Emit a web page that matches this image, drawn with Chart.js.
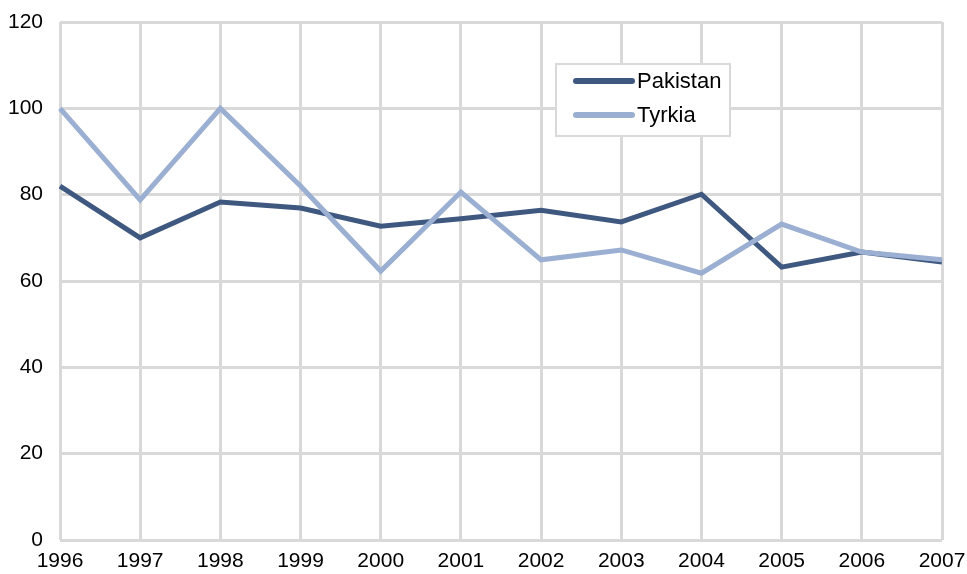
<!DOCTYPE html>
<html>
<head>
<meta charset="utf-8">
<script src="https://cdn.jsdelivr.net/npm/chart.js@4/dist/chart.umd.min.js"></script>
<style>
  html, body { margin: 0; padding: 0; background: #fff; }
  #wrap { width: 967px; height: 574px; }
</style>
</head>
<body>
<div id="wrap"><canvas id="lineChart" width="967" height="574"></canvas></div>
<script>
var years = ['1996','1997','1998','1999','2000','2001','2002','2003','2004','2005','2006','2007'];
var pakistan = [82.0, 70.0, 78.3, 76.9, 72.7, 74.4, 76.4, 73.7, 80.1, 63.2, 66.7, 64.4];
var tyrkia = [100, 78.8, 100, 82.0, 62.3, 80.6, 64.9, 67.2, 61.8, 73.2, 66.7, 64.9];
var yTicks = [0, 20, 40, 60, 80, 100, 120];

var gridColor = '#d9d9d9';
var font = { family: 'Liberation Sans, Arial, sans-serif', size: 21 };

// legend box drawn inside the plot, like the original
var boxLegend = {
  id: 'boxLegend',
  afterDraw: function(chart) {
    var c = chart.ctx;
    var a = chart.chartArea;
    var x = a.left + 496, y = a.top + 42, w = 174, h = 72;
    c.save();
    c.fillStyle = '#fff';
    c.fillRect(x, y, w, h);
    c.strokeStyle = gridColor;
    c.lineWidth = 2;
    c.strokeRect(x, y, w, h);
    c.font = '22px ' + font.family;
    c.textBaseline = 'middle';
    c.lineCap = 'round';
    chart.data.datasets.forEach(function(ds, i) {
      var ly = y + 17 + i * 34;
      c.strokeStyle = ds.borderColor;
      c.lineWidth = 6;
      c.beginPath();
      c.moveTo(x + 20, ly);
      c.lineTo(x + 76, ly);
      c.stroke();
      c.fillStyle = '#000';
      c.fillText(ds.label, x + 81, ly + 1);
    });
    c.restore();
  }
};

var ctx = document.getElementById('lineChart');
var myLineChart = new Chart(ctx, {
  type: 'line',
  data: {
    labels: years,
    datasets: [
      { label: 'Pakistan', data: pakistan, borderColor: '#3f5880', borderWidth: 5, pointRadius: 0, tension: 0, fill: false, order: 1 },
      { label: 'Tyrkia', data: tyrkia, borderColor: '#9aafd1', borderWidth: 5, pointRadius: 0, tension: 0, fill: false, order: 0 }
    ]
  },
  options: {
    responsive: false,
    animation: false,
    layout: { padding: { top: 22, right: 25, left: 0, bottom: 0 } },
    plugins: { legend: { display: false }, tooltip: { enabled: false } },
    scales: {
      x: {
        offset: false,
        grid: { color: gridColor, lineWidth: 3, drawTicks: false },
        border: { display: false },
        ticks: { color: '#000', font: font, maxRotation: 0, padding: 9 },
        afterFit: function(s) { s.height = 34; s.paddingLeft = 0; s.paddingRight = 0; }
      },
      y: {
        min: 0, max: 120,
        afterBuildTicks: function(s) { s.ticks = yTicks.map(function(v) { return { value: v }; }); },
        grid: { color: gridColor, lineWidth: 3, drawTicks: false },
        border: { display: false },
        ticks: { color: '#000', font: font, padding: 17 },
        afterFit: function(s) { s.width = 60; s.paddingTop = 0; s.paddingBottom = 0; }
      }
    }
  },
  plugins: [boxLegend]
});
</script>
</body>
</html>
